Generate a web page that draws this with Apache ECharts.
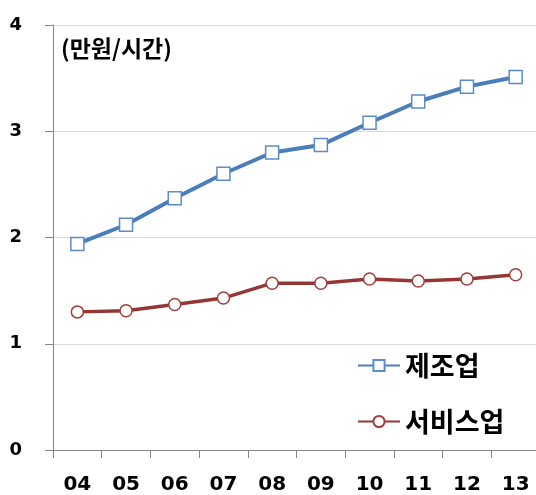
<!DOCTYPE html>
<html>
<head>
<meta charset="utf-8">
<script src="https://cdn.jsdelivr.net/npm/echarts@6/dist/echarts.min.js"></script>
<style>html,body{margin:0;padding:0;background:#fff}#c{width:536px;height:495px}</style>
</head>
<body>
<div id="c"></div>
<script>
const categories = ['04','05','06','07','08','09','10','11','12','13'];
const manufacturing = [1.94, 2.12, 2.37, 2.60, 2.80, 2.87, 3.08, 3.28, 3.42, 3.51];
const services = [1.30, 1.31, 1.37, 1.43, 1.57, 1.57, 1.61, 1.59, 1.61, 1.65];
const seriesNames = ['제조업', '서비스업'];
const unitLabel = '(만원/시간)';

const chart = echarts.init(document.getElementById('c'), null, {renderer: 'canvas'});
const kr = '"Noto Sans CJK KR", "Noto Sans", sans-serif';
chart.setOption({
  animation: false,
  backgroundColor: '#ffffff',
  title: {
    text: unitLabel, left: 56, top: 32,
    textStyle: {fontFamily: kr, fontWeight: 'bold', fontSize: 23, color: '#000'}
  },
  legend: {
    orient: 'vertical', left: 352, top: 347,
    itemWidth: 42, itemHeight: 14, itemGap: 29,
    data: seriesNames,
    textStyle: {fontFamily: kr, fontWeight: 'bold', fontSize: 27, color: '#000'}
  },
  grid: {left: 53, width: 487, top: 25, bottom: 45, containLabel: false, outerBoundsMode: 'none'},
  xAxis: {
    type: 'category', data: categories, boundaryGap: true,
    axisLine: {lineStyle: {color: '#868686', width: 1}},
    axisTick: {show: true, length: 8, lineStyle: {color: '#868686'}},
    axisLabel: {margin: 25, fontFamily: 'DejaVu Sans', fontWeight: 'bold', fontSize: 20, color: '#000'},
    splitLine: {show: false}
  },
  yAxis: {
    type: 'value', min: 0, max: 4, interval: 1,
    axisLine: {show: true, lineStyle: {color: '#868686', width: 1}},
    axisTick: {show: true, length: 8, lineStyle: {color: '#868686'}},
    axisLabel: {margin: 31, fontFamily: 'DejaVu Sans', fontWeight: 'bold', fontSize: 18, color: '#000'},
    splitLine: {show: true, lineStyle: {color: '#d9d9d9', width: 1}}
  },
  series: [
    {
      name: seriesNames[0], type: 'line', data: manufacturing,
      symbol: 'rect', symbolSize: 13, showAllSymbol: true,
      lineStyle: {color: '#4a7ebb', width: 4},
      itemStyle: {color: '#ffffff', borderColor: '#5b8cc8', borderWidth: 1.5},
      z: 3
    },
    {
      name: seriesNames[1], type: 'line', data: services,
      symbol: 'circle', symbolSize: 12, showAllSymbol: true,
      lineStyle: {color: '#943634', width: 3.5},
      itemStyle: {color: '#ffffff', borderColor: '#a0403e', borderWidth: 1.5},
      z: 3
    }
  ]
});
</script>
</body>
</html>
